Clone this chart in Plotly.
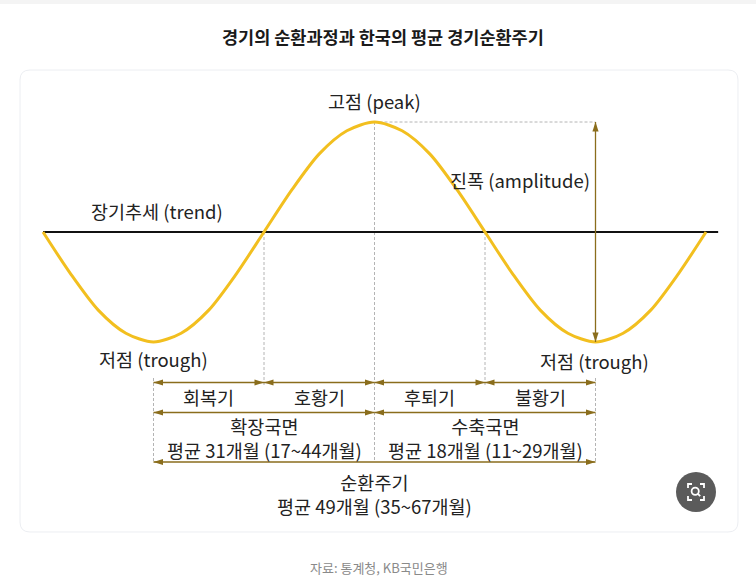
import plotly.graph_objects as go

W, H = 756, 580

# business cycle curve, x in quarter-cycles, y relative to the long-run trend
cycle_x = [0, 0.25, 0.5, 0.75, 1, 1.25, 1.5, 1.75, 2, 2.25, 2.5, 2.75, 3,
           3.25, 3.5, 3.75, 4, 4.25, 4.5, 4.75, 5, 5.25, 5.5, 5.75, 6]
cycle_y = [0, -0.38, -0.71, -0.92, -1, -0.92, -0.71, -0.38, 0, 0.38, 0.71, 0.92, 1,
           0.92, 0.71, 0.38, 0, -0.38, -0.71, -0.92, -1, -0.92, -0.71, -0.38, 0]
trend_x = [0, 6.11]
trend_y = [0, 0]

peak_x, peak_y = 3, 1
trough_x = [1, 5]
trough_y = -1

phase_names = ["회복기", "호황기", "후퇴기", "불황기"]
phase_bounds = [1, 2, 3, 4, 5]
stage_names = ["확장국면", "수축국면"]
stage_months = ["평균 31개월 (17~44개월)", "평균 18개월 (11~29개월)"]
stage_bounds = [1, 3, 5]
cycle_name = "순환주기"
cycle_months = "평균 49개월 (35~67개월)"

GOLD = "#f2bf1f"
ARROW = "#8a6d1c"
DASH = "#b4b4b4"
TXT = "#222222"
FONT = "Noto Sans CJK KR"

# pixel -> data units (plot area covers the whole figure)
X0, SX = 43, 110.5
Y0, SY = 232, 110


def ux(px):
    return (px - X0) / SX


def uy(py):
    return (Y0 - py) / SY


def pp(x, y):
    return "%.5f,%.5f" % (x / W, 1 - y / H)


row1, row2, row3 = uy(382.5), uy(412.5), uy(462)

fig = go.Figure()

fig.add_trace(go.Scatter(x=trend_x, y=trend_y, mode="lines",
                         line=dict(color="#111111", width=2), hoverinfo="skip"))
fig.add_trace(go.Scatter(x=cycle_x, y=cycle_y, mode="lines",
                         line=dict(color=GOLD, width=3, shape="spline", smoothing=0.8),
                         hoverinfo="skip"))


def arrow(xs, ys, angles):
    fig.add_trace(go.Scatter(x=xs, y=ys, mode="lines+markers",
                             line=dict(color=ARROW, width=1.3),
                             marker=dict(symbol="arrow", size=10, angle=angles, color=ARROW,
                                         line=dict(width=0)),
                             hoverinfo="skip", cliponaxis=False))


# amplitude
arrow([trough_x[1], trough_x[1]], [peak_y, trough_y], [0, 180])
for a, b in zip(phase_bounds[:-1], phase_bounds[1:]):
    arrow([a, b], [row1, row1], [-90, 90])
for a, b in zip(stage_bounds[:-1], stage_bounds[1:]):
    arrow([a, b], [row2, row2], [-90, 90])
arrow([stage_bounds[0], stage_bounds[-1]], [row3, row3], [-90, 90])

shapes = []
# card
r = 10
x0, y0, x1, y1 = 20, 70, 738, 532
card = ("M" + pp(x0 + r, y0) + " L" + pp(x1 - r, y0) + " Q" + pp(x1, y0) + " " + pp(x1, y0 + r) +
        " L" + pp(x1, y1 - r) + " Q" + pp(x1, y1) + " " + pp(x1 - r, y1) +
        " L" + pp(x0 + r, y1) + " Q" + pp(x0, y1) + " " + pp(x0, y1 - r) +
        " L" + pp(x0, y0 + r) + " Q" + pp(x0, y0) + " " + pp(x0 + r, y0) + " Z")
shapes.append(dict(type="path", path=card, xref="paper", yref="paper", layer="below",
                   fillcolor="white", line=dict(color="#eceef2", width=1)))
shapes.append(dict(type="rect", xref="paper", yref="paper", x0=0, x1=1, y0=1 - 4 / H, y1=1,
                   fillcolor="#f4f4f4", line=dict(width=0), layer="below"))

dl = dict(color=DASH, width=1, dash="3px,2px")
for xb in [phase_bounds[1], phase_bounds[3]]:
    shapes.append(dict(type="line", x0=xb, x1=xb, y0=0, y1=uy(386), line=dl, layer="below"))
shapes.append(dict(type="line", x0=peak_x, x1=peak_x, y0=peak_y, y1=row3, line=dl, layer="below"))
for xb in trough_x:
    shapes.append(dict(type="line", x0=xb, x1=xb, y0=uy(378), y1=row3, line=dl, layer="below"))
shapes.append(dict(type="line", x0=peak_x, x1=trough_x[1], y0=peak_y, y1=peak_y, line=dl, layer="below"))

# zoom icon
cx, cy, cr = 696, 492, 20
shapes.append(dict(type="circle", xref="paper", yref="paper",
                   x0=(cx - cr) / W, x1=(cx + cr) / W, y0=1 - (cy + cr) / H, y1=1 - (cy - cr) / H,
                   fillcolor="#5b5b5b", line=dict(width=0)))
wl = dict(color="white", width=1.8)
s, a = 8, 4
for sx_, sy_ in [(-1, -1), (1, -1), (-1, 1), (1, 1)]:
    px_, py_ = cx + sx_ * s, cy + sy_ * s
    shapes.append(dict(type="path", xref="paper", yref="paper", line=wl,
                       path="M" + pp(px_ - sx_ * a, py_) + " L" + pp(px_, py_) + " L" + pp(px_, py_ - sy_ * a)))
mr = 3.6
shapes.append(dict(type="circle", xref="paper", yref="paper", line=wl,
                   x0=(cx - 0.8 - mr) / W, x1=(cx - 0.8 + mr) / W,
                   y0=1 - (cy - 0.8 + mr) / H, y1=1 - (cy - 0.8 - mr) / H))
shapes.append(dict(type="path", xref="paper", yref="paper", line=wl,
                   path="M" + pp(cx + 1.9, cy + 1.9) + " L" + pp(cx + 4.2, cy + 4.2)))

ann = []


def label(x, y, text, size=18.5):
    ann.append(dict(x=x, y=y, text=text, showarrow=False, xanchor="center", yanchor="middle",
                    font=dict(family=FONT, size=size, color=TXT)))


label(peak_x, uy(101), "고점 (peak)")
label(ux(157), uy(211), "장기추세 (trend)")
label(ux(520), uy(180), "진폭 (amplitude)")
label(trough_x[0], uy(359), "저점 (trough)")
label(trough_x[1] - 0.01, uy(361), "저점 (trough)")
for i, name in enumerate(phase_names):
    label((phase_bounds[i] + phase_bounds[i + 1]) / 2, uy(396.5), name)
for i, name in enumerate(stage_names):
    xm = (stage_bounds[i] + stage_bounds[i + 1]) / 2
    label(xm, uy(437.5), name + "<br>" + stage_months[i])
label((stage_bounds[0] + stage_bounds[-1]) / 2, uy(494), cycle_name + "<br>" + cycle_months)

ann.append(dict(xref="paper", yref="paper", x=383 / W, y=1 - 37 / H, yanchor="middle",
                text="<b>경기의 순환과정과 한국의 평균 경기순환주기</b>", showarrow=False,
                font=dict(family=FONT, size=17.5, color="#1a1a1a")))
ann.append(dict(xref="paper", yref="paper", x=379 / W, y=1 - 567 / H, yanchor="middle",
                text="자료: 통계청, KB국민은행", showarrow=False,
                font=dict(family=FONT, size=13, color="#8a8a8a")))

fig.update_layout(width=W, height=H, margin=dict(l=0, r=0, t=0, b=0),
                  paper_bgcolor="white", plot_bgcolor="rgba(0,0,0,0)",
                  xaxis=dict(range=[ux(0), ux(W)], visible=False, fixedrange=True),
                  yaxis=dict(range=[uy(H), uy(0)], visible=False, fixedrange=True),
                  showlegend=False, shapes=shapes, annotations=ann)

fig.write_html("out.html", config=dict(displayModeBar=False),
               post_script="document.body.style.margin='0';")
